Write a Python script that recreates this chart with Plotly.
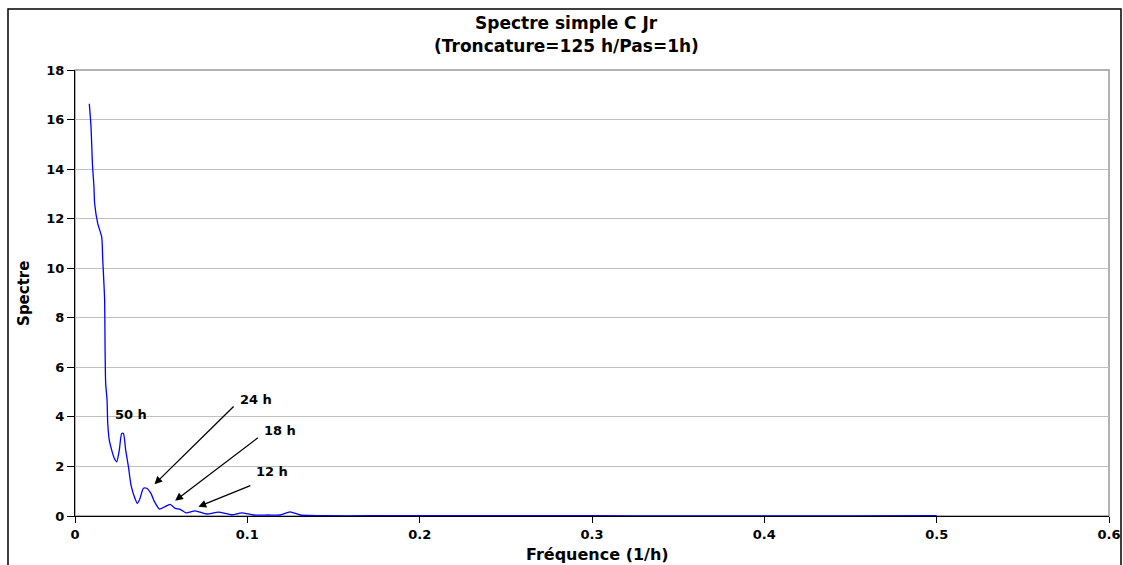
import plotly.graph_objects as go

freq = [0.0083, 0.0093, 0.0101, 0.0110, 0.0114, 0.0132, 0.0155, 0.0161, 0.0166, 0.0172,
        0.0174, 0.0178, 0.0186, 0.0190, 0.0199, 0.0213, 0.0228, 0.0242, 0.0257, 0.0271,
        0.0281, 0.0294, 0.0310, 0.0325, 0.0348, 0.0362, 0.0377, 0.0397, 0.0416, 0.0440,
        0.0461, 0.0490, 0.0523, 0.0552, 0.0581, 0.0610, 0.0645, 0.0697, 0.0765, 0.0832,
        0.0910, 0.0968, 0.1035, 0.1120, 0.1190, 0.1248, 0.1307, 0.1460, 0.1700, 0.2000,
        0.2500, 0.3000, 0.3500, 0.4000, 0.4500, 0.5000]
spectre = [16.64, 15.70, 14.22, 13.28, 12.61, 11.80, 11.26, 10.32, 9.65, 8.71,
           7.10, 5.35, 4.68, 3.74, 3.06, 2.66, 2.33, 2.19, 2.66, 3.33,
           3.33, 2.66, 1.99, 1.25, 0.71, 0.51, 0.71, 1.12, 1.12, 0.92,
           0.58, 0.28, 0.38, 0.47, 0.31, 0.27, 0.13, 0.21, 0.08, 0.16,
           0.05, 0.13, 0.04, 0.04, 0.04, 0.17, 0.04, 0.01, 0.01, 0.01,
           0.01, 0.01, 0.0, 0.0, 0.0, 0.01]

x_ticks = [0, 0.1, 0.2, 0.3, 0.4, 0.5, 0.6]
x_tick_labels = ["0", "0.1", "0.2", "0.3", "0.4", "0.5", "0.6"]
y_ticks = [0, 2, 4, 6, 8, 10, 12, 14, 16, 18]

title_lines = ["Spectre simple C Jr", "(Troncature=125 h/Pas=1h)"]
x_title = "Fréquence (1/h)"
y_title = "Spectre"

# annotations: label, text position, arrow tail, arrow head
ann_labels = ["50 h", "24 h", "18 h", "12 h"]
ann_text_xy = [(0.0323, 4.08), (0.1049, 4.71), (0.119, 3.44), (0.1142, 1.79)]
ann_tail_xy = [None, (0.0929, 4.48), (0.107, 3.20), (0.1026, 1.25)]
ann_head_xy = [None, (0.0461, 1.28), (0.0581, 0.62), (0.0716, 0.375)]

FONT = "DejaVu Sans, Liberation Sans, sans-serif"

fig = go.Figure()
fig.add_trace(go.Scatter(x=freq, y=spectre, mode="lines",
                         line=dict(color="#0000FF", width=1.3, shape="spline", smoothing=0.6),
                         showlegend=False, hoverinfo="skip"))

annotations = []
for lab, (tx, ty), tail, head in zip(ann_labels, ann_text_xy, ann_tail_xy, ann_head_xy):
    annotations.append(dict(x=tx, y=ty, xref="x", yref="y", text=lab, showarrow=False,
                            font=dict(family=FONT, size=13, color="black", weight="bold")))
    if tail is not None:
        annotations.append(dict(x=head[0], y=head[1], ax=tail[0], ay=tail[1],
                                xref="x", yref="y", axref="x", ayref="y", text="",
                                showarrow=True, arrowhead=2, arrowsize=1.2, arrowwidth=1.3,
                                arrowcolor="black"))

# chart title (two lines), axis titles
annotations.append(dict(x=0.4749, y=1.1054, xref="paper", yref="paper",
                        xanchor="center", yanchor="middle", text=title_lines[0], showarrow=False,
                        font=dict(family=FONT, size=17, color="black", weight="bold")))
annotations.append(dict(x=0.4749, y=1.0540, xref="paper", yref="paper",
                        xanchor="center", yanchor="middle", text=title_lines[1], showarrow=False,
                        font=dict(family=FONT, size=17, color="black", weight="bold")))
annotations.append(dict(x=0.505, y=-0.086, xref="paper", yref="paper",
                        xanchor="center", yanchor="middle", text=x_title, showarrow=False,
                        font=dict(family=FONT, size=16, color="black", weight="bold")))
annotations.append(dict(x=-0.0493, y=0.498, xref="paper", yref="paper", textangle=-90,
                        xanchor="center", yanchor="middle", text=y_title, showarrow=False,
                        font=dict(family=FONT, size=15, color="black", weight="bold")))

fig.update_layout(
    width=1123, height=565,
    margin=dict(l=75, r=14, t=70, b=49, autoexpand=False),
    paper_bgcolor="white", plot_bgcolor="white",
    font=dict(family=FONT, color="black"),
    annotations=annotations,
    shapes=[
        dict(type="rect", xref="paper", yref="paper", x0=-0.0648, x1=1.0116, y0=-0.3, y1=1.1368,
             line=dict(color="black", width=1.5), layer="below"),
        dict(type="rect", xref="paper", yref="paper", x0=0, x1=1, y0=0, y1=1,
             line=dict(color="#999999", width=1.5), layer="below"),
    ],
    xaxis=dict(range=[0, 0.6], tickvals=x_ticks, ticktext=x_tick_labels, automargin=False,
               showgrid=False, zeroline=False, showline=True, linecolor="black", linewidth=1.2,
               ticks="outside", ticklen=6, tickcolor="black",
               tickfont=dict(family=FONT, size=13, color="black", weight="bold")),
    yaxis=dict(range=[0, 18], tickvals=y_ticks, automargin=False,
               showgrid=True, gridcolor="#C0C0C0", gridwidth=1,
               zeroline=False, showline=True, linecolor="black", linewidth=1.2,
               ticks="outside", ticklen=7, tickcolor="black",
               tickfont=dict(family=FONT, size=13, color="black", weight="bold")),
)

fig.write_html("out.html", config={"displayModeBar": False},
               post_script="document.body.style.margin='0px'; document.body.style.overflow='hidden';")
